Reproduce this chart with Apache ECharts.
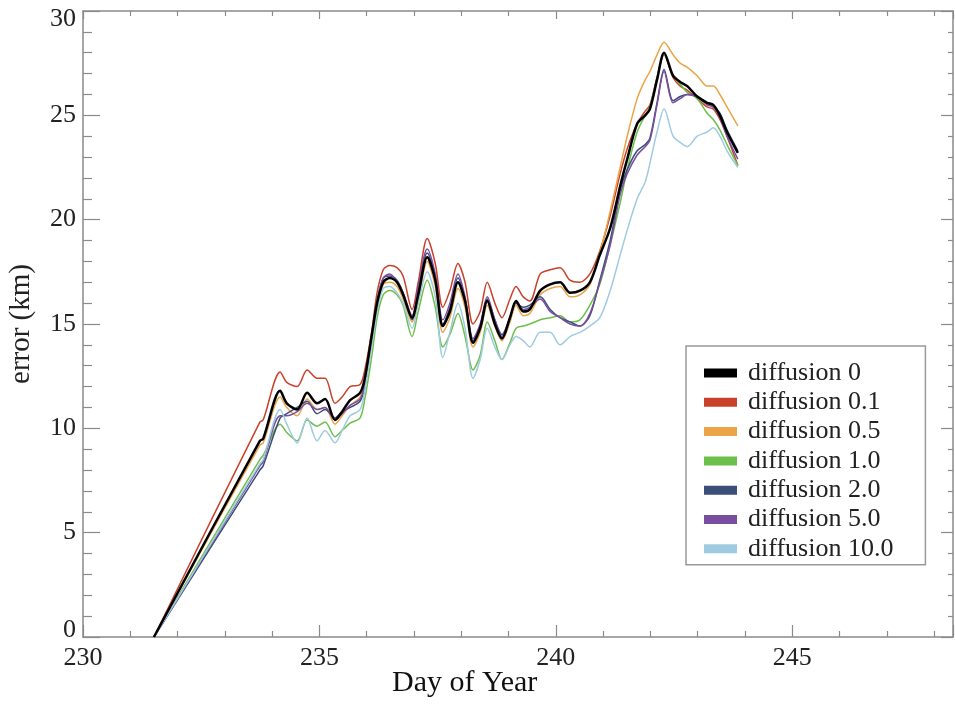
<!DOCTYPE html>
<html><head><meta charset="utf-8">
<script src="https://cdn.jsdelivr.net/npm/echarts@6/dist/echarts.min.js"></script>
<style>html,body{margin:0;padding:0;background:#fff}#c{width:955px;height:704px}</style>
</head><body><div id="c"></div>
<script>
const days = [231.5, 233.74, 233.81, 234.17, 234.31, 234.53, 234.74, 234.95, 235.12, 235.33,
  235.48, 235.65, 235.86, 235.96, 236.11, 236.22, 236.35, 236.49, 236.64, 236.77,
  236.96, 237.09, 237.28, 237.45, 237.61, 237.76, 237.93, 238.08, 238.25, 238.40,
  238.55, 238.71, 238.86, 239.03, 239.16, 239.31, 239.45, 239.67, 239.88, 240.09,
  240.30, 240.51, 240.72, 240.93, 241.15, 241.36, 241.51, 241.72, 241.89, 241.99,
  242.14, 242.29, 242.48, 242.63, 242.78, 242.99, 243.20, 243.33, 243.47, 243.62,
  243.85];
const diff0 = [0, 9.4, 9.5, 11.8, 11.2, 10.9, 11.7, 11.2, 11.4, 10.4,
  10.8, 11.35, 11.7, 12.4, 14.5, 16.0, 17.0, 17.2, 17.0, 16.4,
  15.3, 16.4, 18.2, 17.1, 14.9, 15.6, 17.0, 16.1, 14.1, 14.8,
  16.1, 15.0, 14.3, 15.3, 16.1, 15.6, 15.7, 16.6, 16.9, 17.0,
  16.5, 16.6, 17.0, 18.3, 19.6, 21.6, 22.9, 24.6, 25.0, 25.3,
  26.7, 28.0, 26.9, 26.6, 26.4, 25.9, 25.6, 25.5, 25.0, 24.2,
  23.2];
const diff01 = [0, 10.3, 10.4, 12.7, 12.2, 12.0, 12.8, 12.4, 12.4, 11.2,
  11.5, 12.0, 12.1, 12.8, 14.7, 16.5, 17.6, 17.8, 17.7, 17.3,
  15.7, 17.0, 19.1, 17.9, 15.8, 16.6, 17.9, 17.0, 15.0, 15.6,
  17.0, 16.0, 15.3, 16.2, 16.8, 16.3, 16.1, 17.4, 17.6, 17.7,
  17.1, 17.0, 17.4, 18.5, 20.2, 22.2, 23.4, 24.6, 25.2, 25.5,
  26.8, 27.9, 26.8, 26.4, 26.2, 25.8, 25.4, 25.3, 24.8, 24.0,
  22.6];
const diff05 = [0, 9.2, 9.3, 11.5, 11.0, 10.6, 11.4, 10.9, 11.0, 10.2,
  10.6, 11.1, 11.5, 12.3, 14.4, 15.9, 16.9, 17.0, 16.8, 16.2,
  15.1, 16.1, 18.0, 16.8, 14.6, 15.3, 16.7, 15.8, 13.9, 14.6,
  15.9, 14.9, 14.2, 15.1, 15.9, 15.4, 15.5, 16.4, 16.7, 16.8,
  16.3, 16.4, 16.9, 18.4, 20.4, 22.5, 24.0, 25.8, 26.7, 27.1,
  27.9, 28.5, 27.9, 27.5, 27.3, 26.9, 26.4, 26.4, 26.0, 25.4,
  24.5];
const diff1 = [0, 8.5, 8.7, 10.2, 9.8, 9.4, 10.4, 10.1, 10.3, 9.6,
  9.9, 10.25, 10.5, 11.4, 13.5, 15.3, 16.4, 16.6, 16.4, 15.9,
  14.4, 15.6, 17.1, 15.8, 13.9, 14.5, 15.5, 14.4, 12.8, 13.5,
  15.1, 14.2, 13.3, 14.1, 14.8, 14.9, 15.0, 15.2, 15.3, 15.4,
  15.1, 15.2, 15.9, 16.9, 18.8, 20.8, 22.4, 24.2, 25.0, 25.4,
  26.8, 27.9, 26.9, 26.5, 26.1, 25.8, 25.1, 24.8, 24.3, 23.6,
  22.6];
const diff2 = [0, 8.0, 8.2, 10.5, 10.7, 11.0, 11.3, 10.7, 10.9, 10.5,
  10.8, 11.0, 11.3, 12.0, 14.4, 16.1, 17.2, 17.3, 17.1, 16.5,
  15.2, 16.6, 18.4, 17.3, 15.0, 15.8, 17.2, 16.2, 14.2, 14.9,
  16.2, 15.2, 14.5, 15.3, 16.0, 15.8, 15.9, 16.3, 15.7, 15.3,
  15.1, 14.9, 15.4, 17.1, 19.0, 21.4, 22.4, 23.3, 23.6, 23.9,
  25.6, 27.2, 25.7, 25.9, 26.0, 25.9, 25.6, 25.4, 25.1, 24.3,
  23.3];
const diff5 = [0, 8.2, 8.4, 10.6, 10.6, 10.8, 11.2, 10.9, 11.0, 10.4,
  10.7, 11.1, 11.4, 12.1, 14.4, 16.1, 17.2, 17.4, 17.0, 16.5,
  15.4, 16.8, 18.6, 17.4, 15.2, 16.0, 17.4, 16.3, 14.3, 15.0,
  16.3, 15.2, 14.4, 15.3, 16.1, 15.7, 15.8, 16.2, 15.6, 15.3,
  15.0, 14.9, 15.5, 17.0, 18.8, 21.2, 22.2, 23.1, 23.5, 23.8,
  25.5, 27.1, 25.6, 25.8, 26.0, 25.9, 25.5, 25.4, 24.9, 24.0,
  22.9];
const diff10 = [0, 8.3, 8.5, 10.9, 10.2, 9.3, 10.5, 9.4, 9.9, 9.3,
  9.9, 10.6, 10.9, 11.8, 14.0, 15.6, 16.7, 16.8, 16.5, 16.0,
  14.8, 16.0, 17.5, 16.3, 13.4, 14.6, 16.0, 14.8, 12.4, 13.3,
  14.8, 13.9, 13.3, 14.0, 14.4, 14.2, 13.9, 14.6, 14.6, 14.0,
  14.4, 14.6, 14.9, 15.3, 16.6, 18.3, 19.5, 21.0, 21.8, 22.7,
  24.2, 25.3, 24.0, 23.7, 23.5, 24.0, 24.2, 24.4, 24.0, 23.3,
  22.5];
const seriesNames = ['diffusion 0', 'diffusion 0.1', 'diffusion 0.5', 'diffusion 1.0', 'diffusion 2.0', 'diffusion 5.0', 'diffusion 10.0'];
const seriesValues = [diff0, diff01, diff05, diff1, diff2, diff5, diff10];
const colors = ['#000000', '#c9402b', '#eba447', '#6dbf4b', '#3b4e78', '#7a4e9f', '#9ecbe0'];
const xTicks = [230, 235, 240, 245];
const yTicks = [0, 5, 10, 15, 20, 25, 30];

const FONT = 'Liberation Serif';
const AX = '#8a8a8a';
const chart = echarts.init(document.getElementById('c'), null, {renderer: 'canvas'});

function xAxisCfg(pos, showLabel, tickLen, minorLen) {
  return {
    type: 'value', position: pos, min: 230, max: 248.4, interval: 5,
    axisLine: {onZero: false, lineStyle: {color: AX, width: 1.5}},
    axisTick: {inside: true, length: tickLen, lineStyle: {color: AX, width: 1.2}},
    minorTick: {show: true, splitNumber: 5, length: minorLen, lineStyle: {color: AX, width: 1.2}},
    splitLine: {show: false},
    axisLabel: {show: showLabel, fontFamily: FONT, fontSize: 26, color: '#222', margin: 8,
      showMaxLabel: false,
      formatter: v => xTicks.indexOf(v) >= 0 ? String(v) : ''}
  };
}
function yAxisCfg(pos, showLabel, tickLen, minorLen) {
  return {
    type: 'value', position: pos, min: 0, max: 30, interval: 5,
    axisLine: {onZero: false, lineStyle: {color: AX, width: 1.5}},
    axisTick: {inside: true, length: tickLen, lineStyle: {color: AX, width: 1.2}},
    minorTick: {show: true, splitNumber: 5, length: minorLen, lineStyle: {color: AX, width: 1.2}},
    splitLine: {show: false},
    axisLabel: {show: showLabel, fontFamily: FONT, fontSize: 26, color: '#222', margin: 7,
      formatter: v => {
        if (yTicks.indexOf(v) < 0) return '';
        if (v === 30) return '{t|30}';
        if (v === 0) return '{b|0}';
        return String(v);
      },
      rich: {
        t: {fontFamily: FONT, fontSize: 26, color: '#222', padding: [16, 0, 0, 0]},
        b: {fontFamily: FONT, fontSize: 26, color: '#222', padding: [0, 0, 14, 0]}
      }
    }
  };
}

const yLeft = yAxisCfg('left', true, 17, 9);
yLeft.name = 'error (km)';
yLeft.nameLocation = 'middle';
yLeft.nameGap = 47;
yLeft.nameTextStyle = {fontFamily: FONT, fontSize: 29, color: '#222'};

const series = seriesNames.map((name, i) => ({
  name: name,
  type: 'line',
  xAxisIndex: 0, yAxisIndex: 0,
  data: days.map((d, j) => [d, seriesValues[i][j]]),
  showSymbol: false,
  smooth: 0.3,
  z: i === 0 ? 5 : 2,
  color: colors[i],
  lineStyle: {color: colors[i], width: i === 0 ? 2.5 : 1.5}
}));

chart.setOption({
  animation: false,
  backgroundColor: '#fff',
  grid: {left: 83, right: 2, top: 11, bottom: 67, containLabel: false, outerBoundsMode: 'none'},
  xAxis: [xAxisCfg('bottom', true, 12, 6), xAxisCfg('top', false, 8, 5)],
  yAxis: [yLeft, yAxisCfg('right', false, 12, 5)],
  legend: {
    orient: 'vertical', left: 686, top: 346,
    data: seriesNames, icon: 'rect', itemWidth: 33, itemHeight: 9, itemGap: 3.3,
    padding: [14, 32, 3, 18], borderColor: '#999', borderWidth: 1.5, backgroundColor: '#fff',
    textStyle: {fontFamily: FONT, fontSize: 26, color: '#222', lineHeight: 26, padding: [0, 0, 0, 6]}
  },
  graphic: [{
    type: 'text', left: 392, top: 668, z: 10,
    style: {text: 'Day of Year', fontFamily: FONT, fontSize: 30, fill: '#111'}
  }],
  series: series
});
</script>
</body></html>
